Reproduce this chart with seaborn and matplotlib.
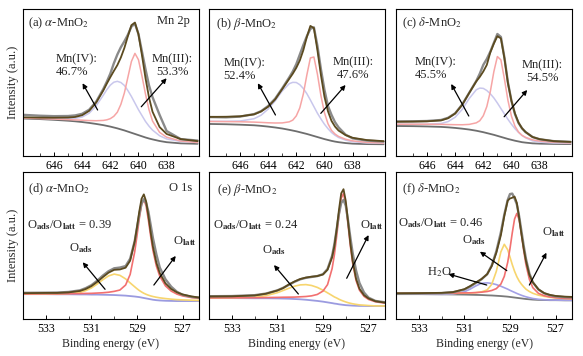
import matplotlib
matplotlib.use('Agg')
import matplotlib.pyplot as plt
import seaborn as sns

# ---- Mn 2p spectra (top row), intensity in a.u. (0-100 scale) ----
E_top = [648.2, 647, 646, 645, 644.5, 644, 643.5, 643, 642.5, 642.25, 642, 641.75, 641.5, 641.25,
         641, 640.75, 640.5, 640.25, 640, 639.75, 639.5, 639.25, 639, 638.5, 638, 637, 635.8]

raw_a = [28, 27.4, 27.1, 27.2, 27.6, 28.7, 31.5, 37, 45.5, 50.5, 56, 63, 69, 74, 78, 82.5, 88, 90, 83, 71,
         59, 48, 40, 28, 17, 11.5, 10.5]
env_a = [26.3, 26.1, 26.05, 26.15, 26.55, 27.75, 30.7, 36.4, 44.5, 49.2, 53.6, 57.8, 61.8, 67.0, 73.5,
         81.5, 89.0, 90.8, 82.8, 68.5, 53.0, 39.8, 30.1, 19.7, 15.0, 11.5, 10.1]
mn4_a = [26.0, 25.7, 25.5, 25.4, 25.6, 26.5, 29.1, 34.2, 41.3, 45.1, 48.2, 50.2, 50.8, 50.0, 48.0, 44.5,
         40.5, 36.0, 31.5, 27.5, 23.5, 20.3, 17.6, 13.8, 11.6, 9.9, 9.2]
mn3_a = [25.8, 25.5, 25.15, 24.75, 24.55, 24.35, 24.1, 24.0, 24.2, 24.6, 25.4, 27.0, 29.8, 35.1, 42.9,
         53.6, 64.3, 69.8, 65.5, 54.4, 42.1, 31.4, 23.8, 16.1, 12.8, 10.2, 9.2]
bg_a = [25.5, 25.1, 24.6, 24.0, 23.6, 23.1, 22.5, 21.8, 21.0, 20.5, 20.0, 19.4, 18.8, 18.1, 17.4, 16.6,
        15.8, 15.0, 14.2, 13.4, 12.6, 11.9, 11.3, 10.2, 9.4, 8.6, 8.3]

raw_b = [26.5, 26.3, 26.8, 28.5, 30.5, 34, 39, 46, 53.5, 57.5, 62.5, 69, 75.5, 81.5, 86.5, 87.5, 75, 59,
         45, 34, 28, 23, 19.5, 14.5, 12, 10.5, 9.8]
env_b = [26.6, 26.7, 27.0, 28.3, 30.3, 33.5, 38.5, 45.5, 52.5, 56.0, 60.0, 65.0, 72.0, 81.0, 88.5, 87.0,
         72.0, 55.0, 40.3, 30.4, 23.9, 20.0, 17.3, 14.2, 12.4, 10.85, 10.1]
mn4_b = [23.6, 23.6, 23.8, 25.35, 27.75, 31.9, 37.5, 44.2, 49.2, 50.1, 50.0, 48.5, 45.9, 42.4, 38.1, 33.6,
         29.1, 25.2, 21.6, 18.6, 16.0, 14.1, 12.6, 10.8, 9.7, 8.95, 8.6]
mn3_b = [23.5, 23.4, 23.3, 23.05, 22.85, 22.6, 22.45, 22.5, 23.25, 24.4, 27.3, 32.75, 42.2, 55.15, 66.7,
         67.35, 55.7, 41.05, 29.4, 21.95, 17.4, 14.95, 13.3, 11.4, 10.3, 9.25, 8.8]
bg_b = [21.8, 21.6, 21.3, 20.9, 20.5, 20.0, 19.4, 18.7, 17.8, 17.3, 16.8, 16.2, 15.6, 15.0, 14.3, 13.6,
        12.9, 12.2, 11.5, 10.9, 10.3, 9.8, 9.4, 8.8, 8.4, 8.1, 8.0]

raw_c = [23.5, 23.6, 23.8, 24.5, 26, 29, 35, 43, 51, 56, 62, 66, 71, 77, 83, 81, 67, 50, 37.5, 28.5, 22.5,
         18.8, 16.3, 12.9, 11.4, 10.1, 9.6]
env_c = [23.3, 23.4, 23.6, 24.2, 25.7, 28.9, 34.75, 42.9, 50.75, 53.8, 57.5, 62.0, 70.5, 76.5, 81.5, 80.0,
         66.5, 49.5, 37.5, 28.8, 22.75, 18.85, 16.3, 12.9, 11.45, 10.1, 9.6]
mn4_c = [21.6, 21.6, 21.6, 22.1, 23.4, 26.35, 31.7, 39.1, 45.05, 46.2, 46.0, 44.55, 42.3, 39.5, 36.05,
         32.3, 28.6, 24.95, 21.6, 18.6, 16.05, 13.95, 12.4, 10.3, 9.45, 8.8, 8.6]
mn3_c = [21.6, 21.6, 21.6, 21.5, 21.4, 21.3, 21.25, 21.5, 22.55, 24.0, 27.4, 33.65, 43.9, 57.4, 67.65,
         65.4, 52.4, 37.85, 27.1, 20.3, 16.35, 14.05, 12.7, 11.0, 10.15, 9.3, 8.9]
bg_c = [20.4, 20.3, 20.1, 19.8, 19.5, 19.1, 18.6, 18.0, 17.2, 16.7, 16.2, 15.6, 15.0, 14.4, 13.7, 13.0,
        12.3, 11.6, 11.0, 10.4, 9.9, 9.4, 9.1, 8.6, 8.4, 8.2, 8.1]

# ---- O 1s spectra (bottom row) ----
E_d = [534, 533, 532.5, 532, 531.5, 531.25, 531, 530.75, 530.5, 530.25, 530, 529.75, 529.5, 529.3, 529.1,
       529, 528.9, 528.8, 528.7, 528.6, 528.5, 528.4, 528.3, 528.15, 528, 527.75, 527.5, 527.25, 527,
       526.6, 526.25]
raw_d = [17.8, 17.9, 18.0, 18.4, 19.5, 21, 23, 26, 29.5, 32.5, 34.5, 35, 36, 41, 53, 62, 71, 78.5, 81.5, 79,
         73, 64, 55, 44, 35, 27, 22, 18.5, 16.5, 15, 14.5]
env_d = [17.55, 17.75, 17.75, 18.1, 19.1, 20.4, 22.35, 25.2, 28.45, 31.5, 33.45, 33.7, 34.9, 39.65, 52.7,
         62.5, 73.1, 81.8, 84.8, 80.1, 70.1, 58.9, 49.1, 38.3, 31.2, 24.2, 20.4, 18.15, 16.7, 15.35, 14.55]
latt_d = [17.05, 17.15, 17.1, 17.2, 17.3, 17.4, 17.45, 17.65, 17.85, 18.2, 18.8, 19.7, 23.1, 30.3, 45.7,
          56.6, 68.2, 77.7, 81.3, 77.0, 67.3, 56.3, 46.6, 36.0, 29.1, 22.5, 19.0, 16.95, 15.7, 14.55, 13.95]
ads_d = [17.0, 17.1, 17.05, 17.3, 18.1, 19.3, 21.1, 23.75, 26.7, 29.3, 30.55, 29.7, 27.3, 24.55, 21.9,
         20.6, 19.4, 18.4, 17.5, 16.8, 16.2, 15.7, 15.3, 14.8, 14.4, 13.9, 13.5, 13.2, 13.0, 12.8, 12.6]
bg_d = [16.9, 16.9, 16.8, 16.8, 16.7, 16.7, 16.6, 16.6, 16.5, 16.4, 16.3, 16.1, 15.9, 15.6, 15.3, 15.1,
        14.9, 14.6, 14.3, 14.0, 13.7, 13.4, 13.1, 12.8, 12.6, 12.4, 12.3, 12.2, 12.2, 12.2, 12.2]

E_e = [534, 533, 532, 531.5, 531, 530.75, 530.5, 530.25, 530, 529.75, 529.5, 529.25, 529, 528.8, 528.6,
       528.5, 528.4, 528.3, 528.2, 528.1, 528, 527.9, 527.8, 527.7, 527.55, 527.4, 527.2, 527, 526.7, 526.25]
raw_e = [15.5, 15.6, 16.2, 17.3, 19.5, 21.2, 23.2, 25.3, 27, 28, 28.6, 29.2, 30.5, 34, 43, 51, 61, 71.5, 79,
         81, 77, 67, 55.5, 45, 33, 24.5, 18, 14.5, 12.3, 11.3]
env_e = [15.3, 15.45, 16.0, 17.2, 19.4, 21.0, 23.5, 25.5, 27.2, 28.2, 28.8, 29.2, 30.3, 33.5, 42.0, 49.5,
         61.0, 74.2, 85.5, 88.3, 80.2, 66.1, 51.5, 39.65, 27.45, 20.6, 16.2, 13.95, 12.1, 11.05]
latt_e = [14.4, 14.45, 14.5, 14.6, 14.7, 14.8, 14.85, 14.9, 15.1, 15.3, 15.75, 16.7, 19.0, 23.4, 34.3,
          43.7, 56.3, 70.3, 82.2, 85.4, 77.6, 63.9, 49.7, 38.1, 26.2, 19.6, 15.4, 13.3, 11.7, 10.7]
ads_e = [14.3, 14.4, 14.8, 15.9, 17.9, 19.4, 20.9, 22.3, 23.2, 23.4, 22.8, 21.5, 19.6, 17.8, 15.95, 15.0,
         14.3, 13.45, 12.75, 12.15, 11.6, 11.1, 10.7, 10.35, 9.95, 9.6, 9.4, 9.15, 8.9, 8.85]
bg_e = [14.2, 14.2, 14.1, 14.1, 14.0, 13.9, 13.8, 13.6, 13.4, 13.1, 12.7, 12.3, 11.8, 11.3, 10.8, 10.5,
        10.3, 10.0, 9.8, 9.6, 9.4, 9.3, 9.2, 9.1, 9.0, 8.9, 8.9, 8.8, 8.8, 8.8]

E_f = [534, 533, 532, 531.5, 531, 530.75, 530.5, 530.25, 530, 529.8, 529.6, 529.4, 529.25, 529.1, 529,
       528.9, 528.8, 528.7, 528.6, 528.5, 528.4, 528.3, 528.15, 528, 527.75, 527.5, 527.25, 527, 526.6, 526.25]
raw_f = [17.2, 17.3, 17.6, 18.2, 20, 22, 24.5, 27, 30.5, 36.5, 46, 59, 71, 81, 85, 85.3, 82, 78, 70, 60,
         50, 41, 31, 25, 20, 17.5, 16.2, 15.4, 14.9, 14.7]
env_f = [17.5, 17.6, 17.8, 18.3, 20.3, 22.4, 24.8, 27.2, 30.5, 36.0, 45.0, 57.0, 70.0, 80.5, 82.0, 82.5,
         83.3, 79.0, 69.0, 58.0, 48.0, 39.5, 30.0, 25.0, 20.2, 17.6, 16.4, 15.7, 15.2, 15.0]
latt_f = [17.45, 17.5, 17.55, 17.6, 17.75, 17.8, 17.95, 18.25, 18.7, 19.4, 20.65, 23.75, 29.0, 38.6, 47.9,
          58.6, 68.0, 71.8, 67.6, 57.8, 46.7, 37.0, 27.0, 21.35, 17.4, 15.85, 15.0, 14.5, 14.0, 13.8]
ads_f = [17.4, 17.45, 17.45, 17.45, 17.6, 17.7, 17.95, 18.45, 19.8, 23.6, 32.4, 45.7, 50.8, 47.1, 42.1,
         37.0, 32.5, 28.8, 25.9, 23.7, 21.9, 20.3, 18.7, 17.5, 16.2, 15.4, 14.8, 14.4, 14.0, 13.8]
h2o_f = [16.9, 16.9, 16.8, 17.0, 18.5, 20.3, 22.5, 24.3, 24.6, 24.2, 23.4, 22.3, 21.3, 20.3, 19.5, 18.8,
         18.1, 17.4, 16.75, 16.15, 15.6, 15.1, 14.5, 13.95, 13.4, 13.1, 12.9, 12.85, 12.75, 12.7]
bg_f = [16.9, 16.9, 16.8, 16.7, 16.6, 16.5, 16.4, 16.3, 16.1, 16.0, 15.8, 15.6, 15.4, 15.2, 15.0, 14.8,
        14.6, 14.4, 14.2, 14.0, 13.8, 13.6, 13.4, 13.2, 13.0, 12.9, 12.8, 12.8, 12.7, 12.7]

labels_top = [r'(a) $\alpha$-MnO$_2$', r'(b) $\beta$-MnO$_2$', r'(c) $\delta$-MnO$_2$']
labels_bot = [r'(d) $\alpha$-MnO$_2$', r'(e) $\beta$-MnO$_2$', r'(f) $\delta$-MnO$_2$']
mn4_pct = ['46.7%', '52.4%', '45.5%']
mn3_pct = ['53.3%', '47.6%', '54.5%']
ratios = ['0.39', '0.24', '0.46']

# colours
c_raw, c_env, c_bg = '#8a8a8a', '#5b4a1f', '#6e6e6e'
c_mn4, c_mn3 = '#c9c7ec', '#f6a5a5'
c_latt, c_ads, c_blue, c_h2o = '#f27070', '#f7d56e', '#9b9be0', '#a3a0e6'

sns.set_theme(style='white')
plt.rcParams['font.family'] = ['Liberation Serif', 'DejaVu Serif']
plt.rcParams['mathtext.fontset'] = 'stix'

fig = plt.figure(figsize=(5.83, 3.56), dpi=100)
W, H = 583, 356
lefts = [23, 209, 396]
ax_top = [fig.add_axes([l / W, 1 - 156 / H, 176 / W, 147 / H]) for l in lefts]
ax_bot = [fig.add_axes([l / W, 1 - 319 / H, 176 / W, 147 / H]) for l in lefts]


def line(ax, x, y, color, lw):
    sns.lineplot(x=x, y=y, ax=ax, color=color, lw=lw, estimator=None, sort=False)


def style(ax, xlim, major, minor):
    ax.set_xlim(*xlim)
    ax.set_ylim(0, 100)
    ax.set_yticks([])
    ax.set_xticks(major)
    ax.set_xticks(minor, minor=True)
    ax.tick_params(axis='x', which='major', direction='in', length=3, width=0.7,
                   labelsize=8.5, pad=3, bottom=True, colors='black')
    ax.tick_params(axis='x', which='minor', direction='in', length=2, width=0.6, bottom=True)
    for s in ax.spines.values():
        s.set_color('black')
        s.set_linewidth(0.8)
    ax.set_xlabel('')
    ax.set_ylabel('')


def arrow(ax, tail, head):
    ax.annotate('', xy=head, xytext=tail,
                arrowprops=dict(arrowstyle='-|>', color='black', lw=0.9, mutation_scale=7,
                                shrinkA=0, shrinkB=0))


top_data = [(raw_a, env_a, mn4_a, mn3_a, bg_a), (raw_b, env_b, mn4_b, mn3_b, bg_b),
            (raw_c, env_c, mn4_c, mn3_c, bg_c)]
# text / arrow anchors (energy, intensity)
mn4_txt = [(645.85, 70), (647.19, 67), (646.86, 68)]
mn4_arr = [((642.9, 31.3), (643.97, 49.5)), ((643.48, 27.9), (644.73, 49.5)), ((643.03, 27.2), (644.28, 49))]
mn3_txt = [(639.07, 70), (639.45, 68), (639.24, 66)]
mn3_arr = [((639.8, 33.5), (638.0, 52.9)), ((640.26, 29), (638.5, 48.3)), ((640.52, 26.7), (638.88, 44.9))]
lab_x = [0.03, 0.04, 0.032]

for i, ax in enumerate(ax_top):
    raw, env, mn4, mn3, bg = top_data[i]
    line(ax, E_top, bg, c_bg, 1.3)
    line(ax, E_top, mn4, c_mn4, 1.1)
    line(ax, E_top, mn3, c_mn3, 1.1)
    line(ax, E_top, raw, c_raw, 1.7)
    line(ax, E_top, env, c_env, 1.3)
    style(ax, (648.2, 635.7), [646, 644, 642, 640, 638], [647, 645, 643, 641, 639, 637])
    ax.text(lab_x[i], 0.955, labels_top[i], transform=ax.transAxes, ha='left', va='top', fontsize=9)
    ax.text(mn4_txt[i][0], mn4_txt[i][1], 'Mn(IV):\n' + mn4_pct[i], ha='left', va='top',
            fontsize=9, linespacing=1.1)
    ax.text(mn3_txt[i][0], mn3_txt[i][1], 'Mn(III):\n' + mn3_pct[i], ha='left', va='top',
            fontsize=9, linespacing=1.1, multialignment='center')
    arrow(ax, *mn4_arr[i])
    arrow(ax, *mn3_arr[i])
ax_top[0].text(0.95, 0.96, 'Mn 2p', transform=ax_top[0].transAxes, ha='right', va='top', fontsize=9)
ax_top[0].set_ylabel('Intensity (a.u.)', fontsize=9, labelpad=3)

# bottom row
line(ax_bot[0], E_d, bg_d, c_blue, 1.3)
line(ax_bot[0], E_d, ads_d, c_ads, 1.2)
line(ax_bot[0], E_d, latt_d, c_latt, 1.2)
line(ax_bot[0], E_d, raw_d, c_raw, 1.7)
line(ax_bot[0], E_d, env_d, c_env, 1.3)

line(ax_bot[1], E_e, bg_e, c_blue, 1.3)
line(ax_bot[1], E_e, ads_e, c_ads, 1.2)
line(ax_bot[1], E_e, latt_e, c_latt, 1.2)
line(ax_bot[1], E_e, raw_e, c_raw, 1.7)
line(ax_bot[1], E_e, env_e, c_env, 1.3)

line(ax_bot[2], E_f, bg_f, '#7a7a7a', 1.3)
line(ax_bot[2], E_f, h2o_f, c_h2o, 1.2)
line(ax_bot[2], E_f, ads_f, c_ads, 1.2)
line(ax_bot[2], E_f, latt_f, c_latt, 1.2)
line(ax_bot[2], E_f, raw_f, c_raw, 1.7)
line(ax_bot[2], E_f, env_f, c_env, 1.3)

ratio_pos = [(0.02, 0.64), (0.025, 0.64), (0.013, 0.655)]
ads_txt = [(532.0, 48), (531.69, 47), (531.12, 54)]
ads_arr = [((530.4, 20.2), (531.38, 38.6)), ((530.08, 17), (531.15, 36.7)), ((529.14, 32.9), (530.32, 45.8))]
latt_txt = [(527.41, 53), (527.38, 64), (527.6, 59)]
latt_arr = [((528.26, 23.1), (527.3, 42.9)), ((527.96, 27.7), (527.0, 57.1)), ((528.15, 23.1), (527.4, 45.1))]
lab_xb = [0.03, 0.044, 0.032]

for i, ax in enumerate(ax_bot):
    style(ax, (534.0, 526.28), [533, 531, 529, 527], [532, 530, 528])
    ax.text(lab_xb[i], 0.935, labels_bot[i], transform=ax.transAxes, ha='left', va='top', fontsize=9)
    ax.text(ratio_pos[i][0], ratio_pos[i][1],
            r'O$_{\mathbf{ads}}$/O$_{\mathbf{latt}}$ = ' + ratios[i],
            transform=ax.transAxes, ha='left', va='center', fontsize=9)
    ax.text(ads_txt[i][0], ads_txt[i][1], r'O$_{\mathbf{ads}}$', ha='left', va='center', fontsize=9)
    ax.text(latt_txt[i][0], latt_txt[i][1], r'O$_{\mathbf{latt}}$', ha='left', va='center', fontsize=9)
    arrow(ax, *ads_arr[i])
    arrow(ax, *latt_arr[i])
    ax.set_xlabel('Binding energy (eV)', fontsize=8.5, labelpad=2)

ax_bot[2].text(532.63, 32, r'H$_2$O', ha='left', va='center', fontsize=9)
arrow(ax_bot[2], (530.02, 23.1), (531.7, 30.6))
ax_bot[0].text(0.96, 0.935, 'O 1s', transform=ax_bot[0].transAxes, ha='right', va='top', fontsize=9)
ax_bot[0].set_ylabel('Intensity (a.u.)', fontsize=9, labelpad=3)

fig.savefig('out.png', dpi=100, facecolor='white')
